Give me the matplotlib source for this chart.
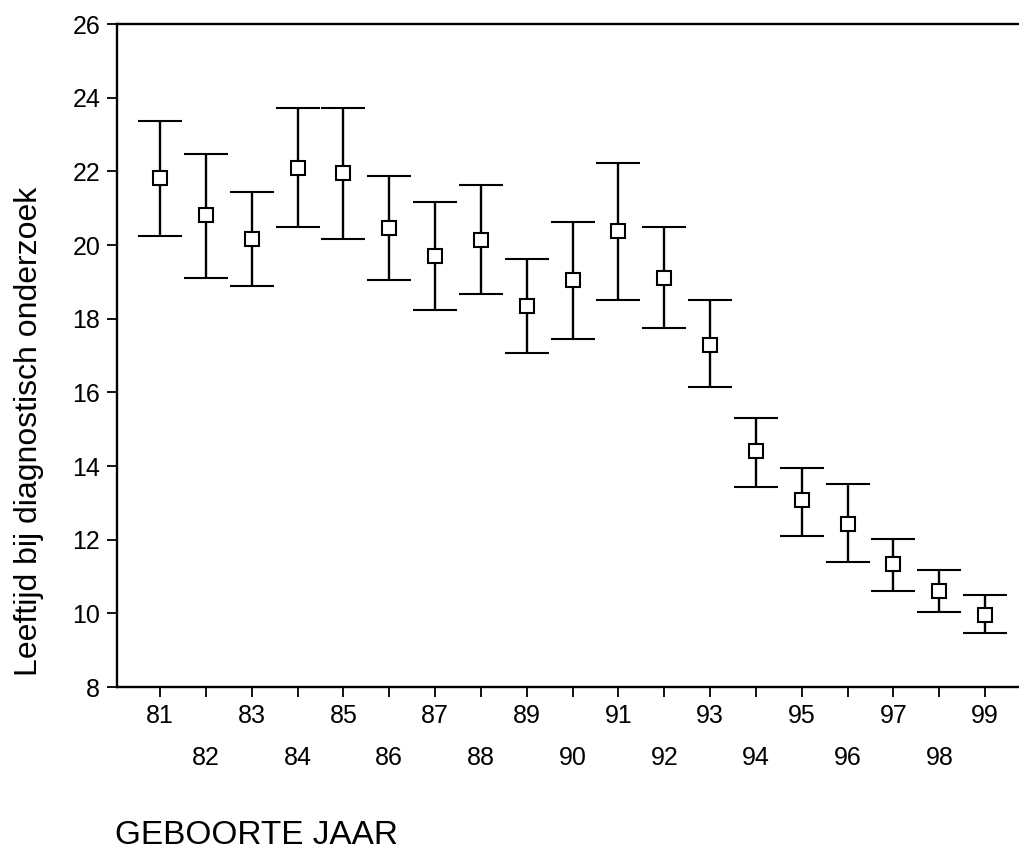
import matplotlib.pyplot as plt
import numpy as np

plt.rcParams['font.family'] = ['Liberation Sans', 'DejaVu Sans']

# Birth year (two digits), mean age at diagnosis and interval bounds
years = [81, 82, 83, 84, 85, 86, 87, 88, 89, 90, 91, 92, 93, 94, 95, 96, 97, 98, 99]
mean_age = [21.83, 20.82, 20.16, 22.08, 21.95, 20.47, 19.69, 20.14, 18.34, 19.05,
            20.38, 19.10, 17.29, 14.40, 13.07, 12.42, 11.33, 10.62, 9.96]
upper = [23.36, 22.47, 21.44, 23.72, 23.72, 21.87, 21.17, 21.62, 19.62, 20.63,
         22.23, 20.50, 18.50, 15.30, 13.95, 13.50, 12.03, 11.19, 10.50]
lower = [20.25, 19.10, 18.89, 20.48, 20.16, 19.05, 18.24, 18.67, 17.07, 17.45,
         18.52, 17.76, 16.14, 13.44, 12.10, 11.39, 10.62, 10.04, 9.46]

x = np.array(years)
y = np.array(mean_age)
yerr = np.array([y - np.array(lower), np.array(upper) - y])

fig = plt.figure(figsize=(10.2, 8.51), dpi=100)
ax = fig.add_axes([0.1147, 0.1927, 0.8853, 0.779])

ax.errorbar(x, y, yerr=yerr, fmt='s', color='black', mfc='white', mec='black',
            ms=10, mew=1.5, ecolor='black', elinewidth=1.7, capsize=15.5, capthick=1.7)

ax.set_xlim(80.06, 99.76)
ax.set_ylim(8, 26)
ax.set_yticks(range(8, 27, 2))
ax.set_xticks(years)
# odd years on the first row, even years staggered below
ax.set_xticklabels([str(v) if v % 2 else '\n' + str(v) for v in years], linespacing=1.95)

for s in ['top', 'left', 'bottom']:
    ax.spines[s].set_linewidth(1.7)
ax.spines['right'].set_visible(False)
ax.tick_params(direction='out', length=7, width=1.3, labelsize=18)
ax.tick_params(axis='x', pad=5)
ax.tick_params(axis='y', pad=5)

# axis titles placed on the figure, as in the original layout
fig.text(0.028, 0.4935, 'Leeftijd bij diagnostisch onderzoek', fontsize=23,
         rotation=90, ha='center', va='center')
fig.text(0.113, 0.0, 'GEBOORTE JAAR', fontsize=24, ha='left', va='bottom')

fig.savefig('out.png', dpi=100)
